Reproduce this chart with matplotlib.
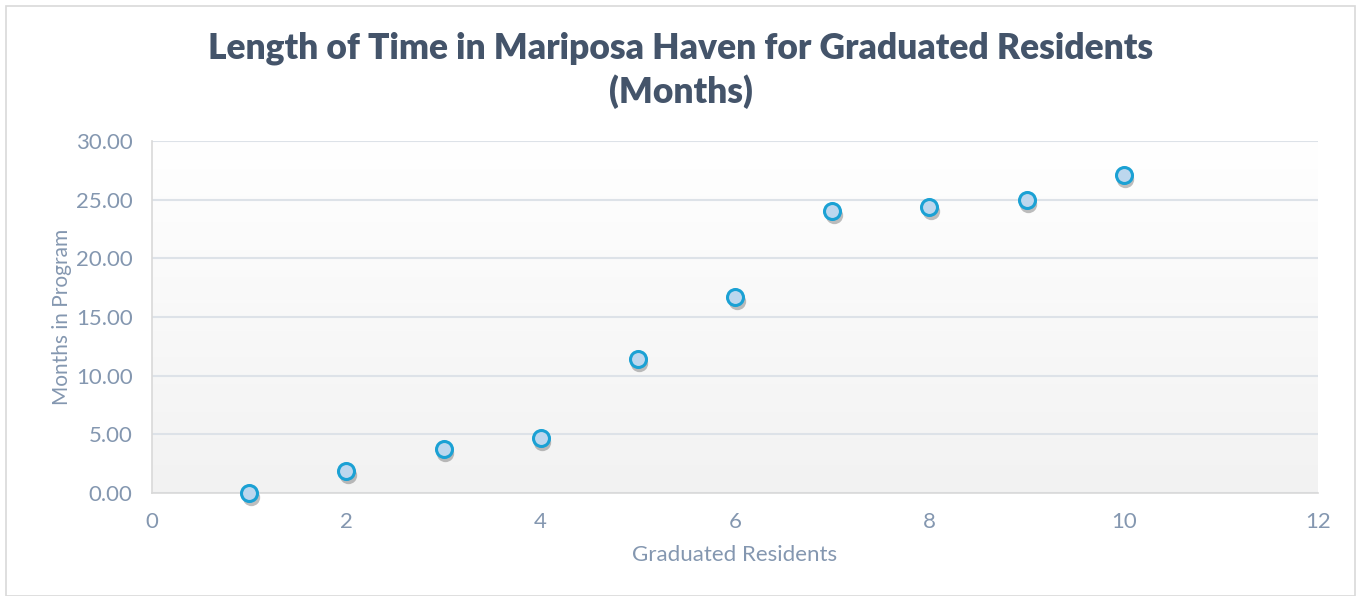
import numpy as np
import matplotlib
matplotlib.use("Agg")
import matplotlib.pyplot as plt
import matplotlib.transforms as mtransforms
from matplotlib.patches import Rectangle

residents = [1, 2, 3, 4, 5, 6, 7, 8, 9, 10]
months = [0.0, 1.87, 3.75, 4.69, 11.42, 16.7, 24.0, 24.4, 24.97, 27.1]
x_ticks = [0, 2, 4, 6, 8, 10, 12]
y_ticks = [0, 5, 10, 15, 20, 25, 30]

title = "Length of Time in Mariposa Haven for Graduated Residents\n(Months)"
xlabel = "Graduated Residents"
ylabel = "Months in Program"

fig = plt.figure(figsize=(13.61, 5.96), dpi=100)
fig.patch.set_facecolor("white")
fig.add_artist(Rectangle((6/1361, 0.0), 1349/1361, 1 - 6/596, transform=fig.transFigure,
                         fill=False, edgecolor="#D9D9D9", linewidth=1.2))

ax = fig.add_axes([152/1361, 1 - 493/596, (1318-152)/1361, (493-141)/596])
ax.set_xlim(0, 12)
ax.set_ylim(0, 30)

grad = np.linspace(0, 1, 256).reshape(-1, 1)
ax.imshow(grad, extent=[0, 12, 0, 30], aspect="auto", origin="lower",
          cmap=matplotlib.colors.LinearSegmentedColormap.from_list("g", ["#F2F2F2", "#FFFFFF"]),
          zorder=0)

for yv in y_ticks:
    ax.axhline(yv, color="#DDE2E8", linewidth=1.5, zorder=1)

for s in ["top", "right"]:
    ax.spines[s].set_visible(False)
ax.spines["left"].set_color("#D9D9D9")
ax.spines["bottom"].set_color("#D9D9D9")
ax.spines["left"].set_linewidth(1.2)
ax.spines["bottom"].set_linewidth(1.2)

ax.set_xticks(x_ticks)
ax.set_yticks(y_ticks)
ax.set_yticklabels([f"{v:.2f}" for v in y_ticks])
ax.tick_params(length=0, labelsize=16, colors="#8497B0")
ax.tick_params(axis="y", pad=14)
ax.tick_params(axis="x", pad=14)
for lab in ax.get_xticklabels() + ax.get_yticklabels():
    lab.set_fontfamily("Lato")

shadow = mtransforms.offset_copy(ax.transData, fig=fig, x=1.5, y=-4, units="dots")
ax.plot(residents, months, linestyle="none", marker="o", markersize=12.5,
        markerfacecolor="#6F6F6F", markeredgecolor="none", alpha=0.45,
        transform=shadow, zorder=2, clip_on=False)
ax.plot(residents, months, linestyle="none", marker="o", markersize=11.5,
        markerfacecolor="#BDD7EE", markeredgecolor="#1BA1D4", markeredgewidth=2.2,
        zorder=3, clip_on=False)

ax.set_xlabel(xlabel, fontsize=16, color="#8497B0", family="Lato", labelpad=9)
ax.set_ylabel(ylabel, fontsize=15, color="#8497B0", family="Lato", labelpad=3)

fig.text(0.5, 1 - 70/596, title, ha="center", va="center", fontsize=25.5,
         fontweight="heavy", color="#44546A", family="Lato", linespacing=1.32)

fig.savefig("out.png", dpi=100)
